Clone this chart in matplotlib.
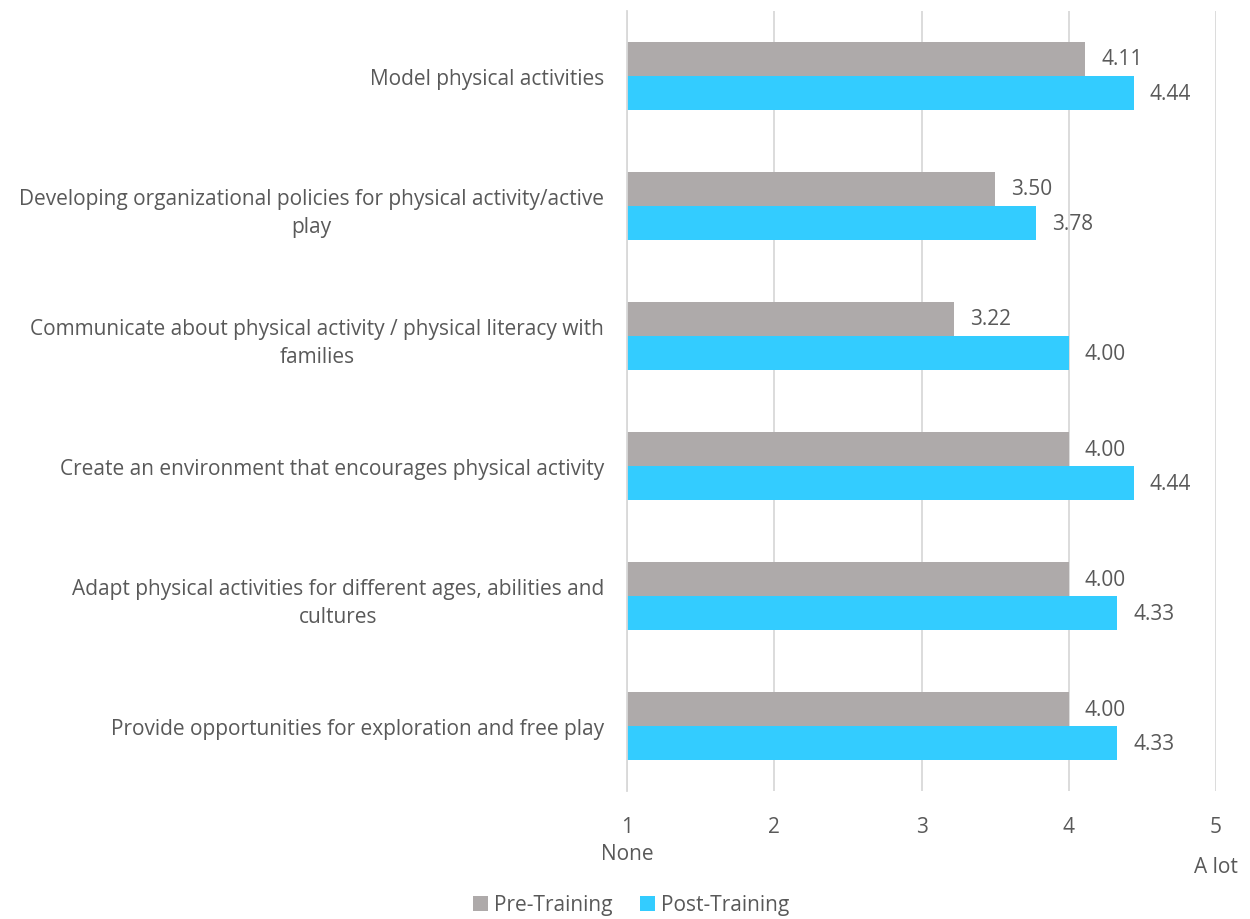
import matplotlib.pyplot as plt
import numpy as np

plt.rcParams['font.family'] = ['Open Sans', 'DejaVu Sans']

categories = [
    "Model physical activities",
    "Developing organizational policies for physical activity/active\nplay",
    "Communicate about physical activity / physical literacy with\nfamilies",
    "Create an environment that encourages physical activity",
    "Adapt physical activities for different ages, abilities and\ncultures",
    "Provide opportunities for exploration and free play",
]
pre = [4.11, 3.50, 3.22, 4.00, 4.00, 4.00]
post = [4.44, 3.78, 4.00, 4.44, 4.33, 4.33]

grey = "#aeaaaa"
blue = "#33ccff"
txt = "#595959"
fs = 15

fig = plt.figure(figsize=(12.5, 9.2), dpi=100)
ax = fig.add_axes([0.5016, 0.139, 0.4712, 0.848])

y = np.arange(len(categories))
h = 0.262
ax.barh(y - h / 2, [v - 1 for v in pre], left=1, height=h, color=grey, label="Pre-Training", zorder=3)
ax.barh(y + h / 2, [v - 1 for v in post], left=1, height=h, color=blue, label="Post-Training", zorder=3)

for i in range(len(categories)):
    ax.text(pre[i] + 0.11, y[i] - h / 2, f"{pre[i]:.2f}", va="center", ha="left", fontsize=fs, color=txt)
    ax.text(post[i] + 0.11, y[i] + h / 2, f"{post[i]:.2f}", va="center", ha="left", fontsize=fs, color=txt)

ax.set_xlim(1, 5)
ax.set_ylim(len(categories) - 0.5, -0.5)
ax.set_xticks([1, 2, 3, 4, 5])
ax.set_yticks(y)
ax.set_yticklabels(categories, multialignment="center", linespacing=1.45)
ax.tick_params(axis="y", length=0, pad=16.5, labelsize=fs, labelcolor=txt)
ax.tick_params(axis="x", length=0, pad=18, labelsize=fs, labelcolor=txt)
ax.grid(axis="x", color="#d9d9d9", linewidth=1.3, zorder=0)
for s in ["top", "right", "bottom"]:
    ax.spines[s].set_visible(False)
ax.spines["left"].set_color("#d9d9d9")
ax.spines["left"].set_linewidth(1.3)
ax.spines["left"].set_zorder(4)

fig.text(0.5016, 1 - 855 / 920, "None", ha="center", va="center", fontsize=fs, color=txt)
fig.text(0.9728, 1 - 868 / 920, "A lot", ha="center", va="center", fontsize=fs, color=txt)

fig.legend(loc="center", bbox_to_anchor=(0.505, 1 - 906 / 920), ncol=2, frameon=False,
           fontsize=fs, labelcolor=txt, handlelength=0.7, handleheight=0.7,
           handletextpad=0.3, columnspacing=1.3)

fig.savefig("out.png", dpi=100)
